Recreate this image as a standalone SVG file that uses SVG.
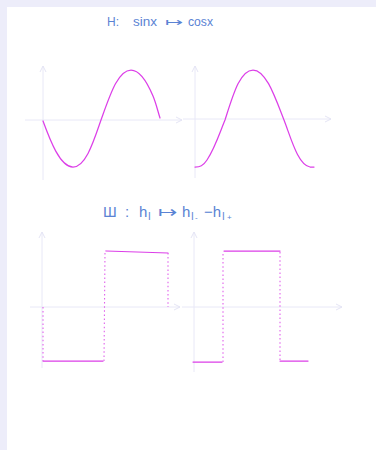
<svg xmlns="http://www.w3.org/2000/svg" width="376" height="450" viewBox="0 0 376 450">
  <defs>
    <marker id="ax" viewBox="0 0 8 8" refX="7" refY="4" markerWidth="8" markerHeight="8" markerUnits="userSpaceOnUse" orient="auto">
      <path d="M1,1 L7,4 L1,7" fill="none" stroke="#e2e2f4" stroke-width="0.9"/>
    </marker>
    <style>
      .axis { fill: none; stroke: #e8e8f7; stroke-width: 1; }
      .curve { fill: none; stroke: #dc3fe8; stroke-width: 1.25; stroke-linecap: round; stroke-linejoin: round; }
      .dot { fill: none; stroke: #e060ec; stroke-width: 1.1; stroke-dasharray: 1.5 2.6; }
      .label { font-family: "Liberation Sans", "DejaVu Sans", sans-serif; font-size: 12px; fill: #5b83d4; }
      .big { font-size: 15px; }
      .sub { font-size: 10px; }
      .tiny { font-size: 8px; }
      .arr { font-family: "DejaVu Sans", sans-serif; font-weight: 200; }
    </style>
  </defs>

  <rect x="0" y="0" width="376" height="450" fill="#ededfa"/>
  <rect x="7" y="7" width="369" height="443" fill="#ffffff"/>

  <g id="title-hilbert">
    <text class="label" y="26"><tspan x="107">H:</tspan><tspan x="133" textLength="24" lengthAdjust="spacingAndGlyphs">sinx</tspan><tspan class="arr" x="165" textLength="18" lengthAdjust="spacingAndGlyphs">↦</tspan><tspan x="188" textLength="25" lengthAdjust="spacingAndGlyphs">cosx</tspan></text>
  </g>

  <g id="graph-sin">
    <line class="axis" x1="43" y1="180" x2="43" y2="66" marker-end="url(#ax)"/>
    <line class="axis" x1="25" y1="120" x2="182" y2="120" marker-end="url(#ax)"/>
    <path class="curve" d="M43,121 C50,140 60,167 73,167 C86,167 94,140 101,120 C110,95 118,70 131,70 C140,70 148,84 153,96 C156,103 158,112 160,118"/>
  </g>

  <g id="graph-cos">
    <line class="axis" x1="195" y1="178" x2="195" y2="66" marker-end="url(#ax)"/>
    <line class="axis" x1="183" y1="119" x2="331" y2="119" marker-end="url(#ax)"/>
    <path class="curve" d="M195,167 C200,167 203,166 207,160 C215,148 220,132 225,120 C233,95 240,70 253,70 C266,70 275,97 284,120 C291,138 298,165 310,167 L314,167"/>
  </g>

  <g id="title-sha">
    <text class="label big" y="217"><tspan x="103">Ш</tspan><tspan x="125">:</tspan><tspan x="139">h</tspan><tspan class="sub" x="148" dy="3">I</tspan><tspan class="arr" x="158" dy="-3" textLength="20" lengthAdjust="spacingAndGlyphs">↦</tspan><tspan x="182">h</tspan><tspan class="sub" x="191" dy="3">I</tspan><tspan class="tiny" x="195" dy="0">-</tspan><tspan x="204" dy="-3">−h</tspan><tspan class="sub" x="222" dy="3">I</tspan><tspan class="tiny" x="227" dy="0">+</tspan></text>
  </g>

  <g id="graph-square-left">
    <line class="axis" x1="42" y1="368" x2="42" y2="232" marker-end="url(#ax)"/>
    <line class="axis" x1="30" y1="307" x2="180" y2="307" marker-end="url(#ax)"/>
    <line class="dot" x1="43" y1="307" x2="43" y2="361"/>
    <path class="curve" d="M43,361 L103,361"/>
    <line class="dot" x1="104" y1="361" x2="105" y2="252"/>
    <path class="curve" d="M106,251 L168,253"/>
    <line class="dot" x1="168" y1="253" x2="168" y2="307"/>
  </g>

  <g id="graph-square-right">
    <line class="axis" x1="194" y1="372" x2="194" y2="232" marker-end="url(#ax)"/>
    <line class="axis" x1="182" y1="307" x2="342" y2="307" marker-end="url(#ax)"/>
    <path class="curve" d="M193,362 L222,362"/>
    <line class="dot" x1="223" y1="362" x2="223" y2="252"/>
    <path class="curve" d="M224,251 L280,251"/>
    <line class="dot" x1="280" y1="252" x2="280" y2="361"/>
    <path class="curve" d="M280,361 L308,361"/>
  </g>
</svg>
